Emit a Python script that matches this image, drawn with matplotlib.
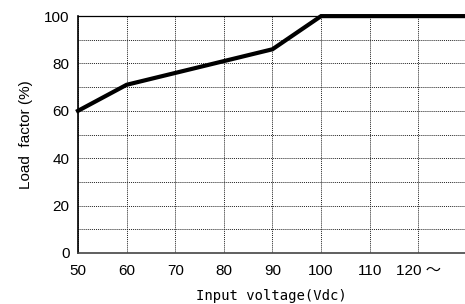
import numpy as np
import matplotlib.pyplot as plt

# ---------------------------
# Daten
# ---------------------------
spannung = [50, 60, 90, 100, 130]
last = [60, 71, 86, 100, 100]

x_ticks = [50, 60, 70, 80, 90, 100, 110, 120]
x_labels = ['50', '60', '70', '80', '90', '100', '110', '120 ～']
y_ticks = [0, 20, 40, 60, 80, 100]

# ---------------------------
# Diagramm
# ---------------------------
fig = plt.figure(figsize=(4.65, 3.04), dpi=100)
ax = fig.add_axes([0.1677, 0.168, 0.8323, 0.779])

ax.plot(spannung, last, '-', color='black', linewidth=3, solid_joinstyle='miter',
        zorder=3, clip_on=False)

ax.set_xlim(50, 129.6)
ax.set_ylim(0, 100)

ax.set_xticks(x_ticks)
ax.set_xticklabels(x_labels, family=['Liberation Sans', 'Noto Sans CJK JP'])
ax.set_yticks(y_ticks)
ax.set_yticklabels([str(v) for v in y_ticks], family='Liberation Sans')
ax.xaxis.set_minor_locator(plt.MultipleLocator(10))
ax.yaxis.set_minor_locator(plt.MultipleLocator(10))
ax.tick_params(which='both', length=0, labelsize=11)
ax.tick_params(axis='x', pad=8)
ax.tick_params(axis='y', pad=6)

ax.grid(True, which='both', linestyle=(0, (1, 1)), color='#222222', linewidth=0.7)
ax.set_axisbelow(True)

ax.spines['right'].set_visible(False)
ax.spines['top'].set_linewidth(0.9)
ax.spines['left'].set_linewidth(1.2)
ax.spines['bottom'].set_linewidth(1.2)
ax.spines['bottom'].set_color('#444444')

ax.set_xlabel('Input voltage(Vdc)', family='DejaVu Sans Mono', fontsize=10, labelpad=8)
ax.set_ylabel('Load  factor (%)', family='Liberation Sans', fontsize=11, labelpad=8)

fig.savefig('out.png', dpi=100)
